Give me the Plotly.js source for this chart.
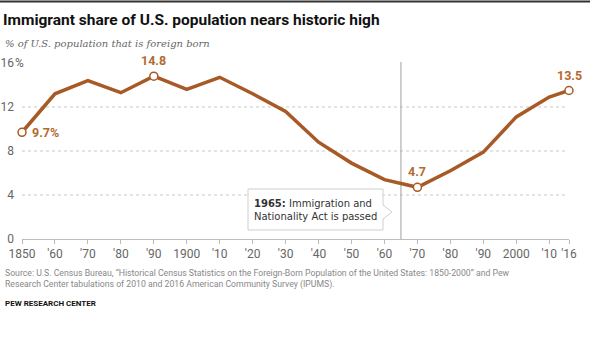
<!DOCTYPE html>
<html>
<head>
<meta charset="utf-8">
<script src="https://cdn.plot.ly/plotly-3.0.1.min.js"></script>
<style>
html,body{margin:0;padding:0;background:#fff;}
#chart{width:600px;height:354px;}
</style>
</head>
<body>
<div id="chart"></div>
<script>
// ---- Data ----
const years = [1850,1860,1870,1880,1890,1900,1910,1920,1930,1940,1950,1960,1970,1980,1990,2000,2010,2016];
const shares = [9.7,13.2,14.4,13.3,14.8,13.6,14.7,13.2,11.6,8.8,6.9,5.4,4.7,6.2,7.9,11.1,12.9,13.5];
const tickYears = [1850,1860,1870,1880,1890,1900,1910,1920,1930,1940,1950,1960,1970,1980,1990,2000,2010,2016];
const tickLabels = ["1850","'60","'70","'80","'90","1900","'10","'20","'30","'40","'50","'60","'70","'80","'90","2000","'10","'16"];
const yTicks = [0,4,8,12,16];
const yTickLabels = ["0","4","8","12","16"];
const highlightYears = [1850,1890,1970,2016];
const highlightLabels = ["9.7%","14.8","4.7","13.5"];
const eventYear = 1965;
const eventText = "<b>1965:</b> Immigration and<br>Nationality Act is passed";

// ---- Layout constants (pixels) ----
const W = 600, H = 354;
const mL = 22, mR = 31, mT = 63, mB = 115;
const pw = W - mL - mR, ph = H - mT - mB;
const px = x => (x - mL) / pw;      // pixel -> paper x
const py = y => (H - mB - y) / ph;  // pixel -> paper y

const lineColor = '#A85A26';
const labelColor = '#B26A30';

const hlVals = highlightYears.map(y => shares[years.indexOf(y)]);

const traces = [
  {
    x: years, y: shares, type: 'scatter', mode: 'lines',
    line: {color: lineColor, width: 3.5}, hoverinfo: 'skip', cliponaxis: false
  },
  {
    x: highlightYears, y: hlVals, type: 'scatter', mode: 'markers',
    marker: {size: 8, color: '#fff', line: {color: lineColor, width: 1.5}},
    hoverinfo: 'skip', cliponaxis: false
  }
];

const shapes = [];
// top rule
shapes.push({type:'line', xref:'paper', yref:'paper', x0:px(0), x1:px(590), y0:py(1.5), y1:py(1.5), line:{color:'#333', width:2}});
// dotted grid lines for interior ticks
yTicks.slice(1, -1).forEach(v => {
  shapes.push({type:'line', xref:'paper', yref:'y', x0:0, x1:px(565), y0:v, y1:v, line:{color:'#c8c8c8', width:1, dash:'dot'}, layer:'below'});
});
// event vertical line
shapes.push({type:'line', xref:'x', yref:'paper', x0:eventYear, x1:eventYear, y0:0, y1:py(62), line:{color:'#a0a0a0', width:1}, layer:'below'});
// callout box with pointer
const bx0 = px(248), bx1 = px(383), by0 = py(189), by1 = py(230);
const tipX = px(392), pTop = py(205), pBot = py(219), pMid = py(212);
shapes.push({
  type:'path', xref:'paper', yref:'paper',
  path:`M ${bx0} ${by0} L ${bx1} ${by0} L ${bx1} ${pTop} L ${tipX} ${pMid} L ${bx1} ${pBot} L ${bx1} ${by1} L ${bx0} ${by1} Z`,
  fillcolor:'#fff', line:{color:'#cfcfcf', width:1}, layer:'above'
});

const annotations = [];
// highlight labels
const hlPos = [
  {xanchor:'left', yanchor:'middle', xshift:8, yshift:0},
  {xanchor:'center', yanchor:'bottom', xshift:0, yshift:6},
  {xanchor:'center', yanchor:'bottom', xshift:0, yshift:6},
  {xanchor:'center', yanchor:'bottom', xshift:0, yshift:6}
];
highlightYears.forEach((yr, i) => {
  annotations.push(Object.assign({
    x: yr, y: hlVals[i], xref:'x', yref:'y', text: '<b>' + highlightLabels[i] + '</b>',
    showarrow:false, font:{family:'Roboto, Liberation Sans, sans-serif', size:12.5, color:labelColor}
  }, hlPos[i]));
});
// % after 16
annotations.push({x:px(13), y:16, xref:'paper', yref:'y', text:'%', showarrow:false, xanchor:'left', yanchor:'middle',
  xshift:0, font:{family:'Roboto, Liberation Sans, sans-serif', size:12, color:'#666'}});
// event text
annotations.push({x:px(252), y:py(210), xref:'paper', yref:'paper', text:eventText, showarrow:false,
  xanchor:'left', yanchor:'middle', align:'left',
  font:{family:'DejaVu Sans, Verdana, sans-serif', size:10, color:'#333'}});
// subtitle
annotations.push({x:px(3), y:py(43), xref:'paper', yref:'paper', text:'<i>% of U.S. population that is foreign born</i>',
  showarrow:false, xanchor:'left', yanchor:'middle',
  font:{family:'DejaVu Serif, Liberation Serif, serif', size:10, color:'#666'}});
// source
annotations.push({x:px(3), y:py(279), xref:'paper', yref:'paper',
  text:'Source: U.S. Census Bureau, “Historical Census Statistics on the Foreign-Born Population of the United States: 1850-2000” and Pew<br>Research Center tabulations of 2010 and 2016 American Community Survey (IPUMS).',
  showarrow:false, xanchor:'left', yanchor:'middle', align:'left',
  font:{family:'Roboto, sans-serif', size:8.7, color:'#888'}});
// footer
annotations.push({x:px(3), y:py(303), xref:'paper', yref:'paper', text:'<b>PEW RESEARCH CENTER</b>',
  showarrow:false, xanchor:'left', yanchor:'middle',
  font:{family:'Roboto, sans-serif', size:8, color:'#111'}});

const layout = {
  width: W, height: H,
  margin: {l: mL, r: mR, t: mT, b: mB, pad: 0},
  paper_bgcolor: '#fff', plot_bgcolor: '#fff',
  showlegend: false,
  title: {
    text: '<b>Immigrant share of U.S. population nears historic high</b>',
    xref: 'container', yref: 'container', x: 3/W, y: 1 - 20/H, xanchor: 'left', yanchor: 'middle',
    font: {family: 'Roboto, sans-serif', size: 15.5, color: '#111'}
  },
  xaxis: {
    range: [1850, 2016], tickvals: tickYears, ticktext: tickLabels,
    showgrid: false, zeroline: false, showline: true, linecolor: '#bdbdbd', linewidth: 1,
    ticks: 'outside', ticklen: 4, tickcolor: '#bdbdbd', tickwidth: 1,
    tickfont: {family: 'Roboto, Liberation Sans, sans-serif', size: 12, color: '#666'},
    fixedrange: true
  },
  yaxis: {
    range: [0, 16], tickvals: yTicks, ticktext: yTickLabels,
    showgrid: false, zeroline: false, showline: false, ticks: '',
    ticklabelstandoff: 7,
    tickfont: {family: 'Roboto, Liberation Sans, sans-serif', size: 12, color: '#666'},
    fixedrange: true
  },
  shapes: shapes,
  annotations: annotations
};

Plotly.newPlot('chart', traces, layout, {displayModeBar: false, staticPlot: true});
</script>
</body>
</html>
